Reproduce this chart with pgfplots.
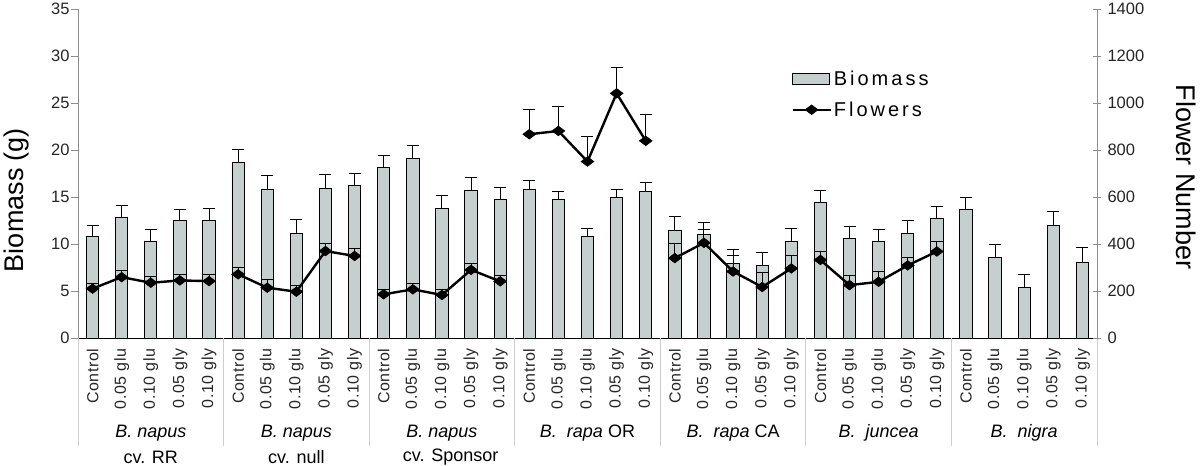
\documentclass[border=0pt]{standalone}
\usepackage{fontspec}
\setmainfont{Liberation Sans}
\usepackage{pgfplots}
\usepackage{pgfplotstable}
\pgfplotsset{compat=1.18}
\definecolor{barfill}{RGB}{197,207,206}
\definecolor{axgray}{RGB}{140,140,140}
\definecolor{sepgray}{RGB}{205,205,205}

\pgfplotstableread{
x y e
0 10.8 1.2
1 12.8 1.3
2 10.3 1.2
3 12.5 1.2
4 12.5 1.3
5 18.7 1.4
6 15.8 1.45
7 11.1 1.5
8 15.9 1.5
9 16.2 1.35
10 18.1 1.35
11 19.1 1.4
12 13.8 1.35
13 15.7 1.4
14 14.7 1.35
15 15.8 1.0
16 14.7 0.9
17 10.8 0.9
18 14.9 0.9
19 15.6 0.95
20 11.4 1.5
21 11.0 1.3
22 7.9 1.55
23 7.7 1.4
24 10.3 1.3
25 14.4 1.3
26 10.6 1.3
27 10.3 1.25
28 11.1 1.4
29 12.7 1.3
30 13.7 1.3
31 8.6 1.3
32 5.35 1.4
33 12.0 1.45
34 8.0 1.6
}\biomass

\pgfplotstableread{
x y e
0 210 23
1 259 29
2 235 28
3 245 26
4 242 29
5 271 30
6 214 37
7 197 28
8 370 30
9 349 30
10 186 22
11 207 24
12 183 24
13 290 26
14 241 24
15 867 106
16 881 105
17 751 106
18 1041 108
19 839 110
20 340 60
21 405 58
22 283 66
23 217 62
24 296 55
25 332 36
26 225 41
27 239 42
28 309 35
29 368 43
}\flowers

\newcommand{\tk}{\fontsize{16.5}{18}\selectfont}
\newcommand{\xtk}{\fontsize{16}{18}\selectfont\addfontfeatures{LetterSpace=4}}
\newcommand{\grp}{\fontsize{18}{20}\selectfont}

\pgfplotsset{
  flowstyle/.style={black, line width=2.4pt, mark=diamond*, mark size=6.5pt,
    mark options={rotate=90, line width=0.5pt, solid},
    /pgfplots/error bars/y dir=plus, /pgfplots/error bars/y explicit,
    /pgfplots/error bars/error bar style={line width=1pt, black},
    /pgfplots/error bars/error mark options={rotate=90, mark size=6pt, line width=1pt, black}},
}

\begin{document}
\begin{tikzpicture}
\begin{axis}[
  at={(0,0)}, anchor=south west,
  scale only axis, width=1019pt, height=329pt,
  xmin=-0.5, xmax=34.5, ymin=0, ymax=35,
  axis x line*=bottom, axis y line*=left,
  axis line style={-},
  x axis line style={black, line width=0.9pt, -},
  y axis line style={axgray, line width=0.9pt, -},
  ytick={0,5,...,35},
  ytick style={axgray, line width=0.8pt},
  tick align=outside,
  major tick length=7pt,
  xtick={0,...,34},
  xtick style={draw=none},
  xticklabels={Control,0.05 glu,0.10 glu,0.05 gly,0.10 gly,
               Control,0.05 glu,0.10 glu,0.05 gly,0.10 gly,
               Control,0.05 glu,0.10 glu,0.05 gly,0.10 gly,
               Control,0.05 glu,0.10 glu,0.05 gly,0.10 gly,
               Control,0.05 glu,0.10 glu,0.05 gly,0.10 gly,
               Control,0.05 glu,0.10 glu,0.05 gly,0.10 gly,
               Control,0.05 glu,0.10 glu,0.05 gly,0.10 gly},
  xticklabel style={rotate=90, anchor=east, font=\xtk, text=black!85},
  minor xtick={-0.5,0.5,...,34.5},
  minor tick length=71pt,
  minor x tick style={sepgray, line width=0.8pt},
  extra x ticks={-0.5,4.5,9.5,14.5,19.5,24.5,29.5,34.5},
  extra x tick labels={},
  extra x tick style={major tick length=108pt, xtick style={draw=sepgray, line width=0.8pt}},
  yticklabel style={font=\tk, text=black!85, xshift=2pt},
  /pgf/number format/assume math mode=true,
  /pgf/number format/1000 sep={},
  clip=false,
]
\addplot[ybar, bar width=12.3pt, fill=barfill, draw=black, line width=0.9pt,
  error bars/.cd, y dir=plus, y explicit,
  error bar style={line width=1pt, black},
  error mark options={rotate=90, mark size=6pt, line width=1pt, black}]
  table[x=x, y=y, y error=e] {\biomass};

\node[font=\grp\itshape] at (axis cs:2,0) [yshift=-95pt] {B. napus};
\node[font=\grp] at (axis cs:2,0) [yshift=-119pt] {cv. RR};
\node[font=\grp\itshape] at (axis cs:7,0) [yshift=-95pt] {B. napus};
\node[font=\grp] at (axis cs:7,0) [yshift=-119pt] {cv. null};
\node[font=\grp\itshape] at (axis cs:12,0) [yshift=-95pt] {B. napus};
\node[font=\grp] at (axis cs:12.3,0) [yshift=-119pt] {cv. Sponsor};
\node[font=\grp] at (axis cs:17,0) [yshift=-95pt] {\itshape B.\ \ rapa\upshape\ OR};
\node[font=\grp] at (axis cs:22,0) [yshift=-95pt] {\itshape B.\ \ rapa\upshape\ CA};
\node[font=\grp\itshape] at (axis cs:27,0) [yshift=-95pt] {B.\ \ juncea};
\node[font=\grp\itshape] at (axis cs:32,0) [yshift=-95pt] {B.\ \ nigra};
\end{axis}

\begin{axis}[
  at={(0,0)}, anchor=south west,
  scale only axis, width=1019pt, height=329pt,
  xmin=-0.5, xmax=34.5, ymin=0, ymax=1400,
  axis x line=none, axis y line*=right,
  axis line style={-},
  y axis line style={axgray, line width=0.9pt, -},
  ytick={0,200,...,1400},
  ytick style={axgray, line width=0.8pt},
  tick align=center, major tick length=8pt,
  yticklabel style={font=\tk, text=black!85, xshift=3pt},
  /pgf/number format/assume math mode=true,
  /pgf/number format/1000 sep={},
  legend style={at={(0.697,0.825)}, anchor=north west, draw=none, fill=none,
    font=\fontsize{20}{22}\selectfont\addfontfeatures{LetterSpace=15},
    row sep=11pt},
  legend cell align=left,
  clip=false,
]
\addlegendimage{legend image code/.code={\draw[fill=barfill,draw=black,line width=1pt] (0pt,-5.5pt) rectangle (37pt,5.5pt);}}
\addlegendentry{Biomass}
\addlegendimage{legend image code/.code={\draw[black, line width=2.4pt, mark=diamond*, mark size=6.5pt, mark options={rotate=90,line width=0.5pt}, mark repeat=2, mark phase=2] plot coordinates {(0pt,0pt) (19pt,0pt) (38pt,0pt)};}}
\addlegendentry{Flowers}
\addplot[restrict x to domain=0:4, forget plot, flowstyle] table[x=x, y=y, y error=e] {\flowers};
\addplot[restrict x to domain=5:9, forget plot, flowstyle] table[x=x, y=y, y error=e] {\flowers};
\addplot[restrict x to domain=10:14, forget plot, flowstyle] table[x=x, y=y, y error=e] {\flowers};
\addplot[restrict x to domain=15:19, forget plot, flowstyle] table[x=x, y=y, y error=e] {\flowers};
\addplot[restrict x to domain=20:24, forget plot, flowstyle] table[x=x, y=y, y error=e] {\flowers};
\addplot[restrict x to domain=25:29, forget plot, flowstyle] table[x=x, y=y, y error=e] {\flowers};
\end{axis}

\node[rotate=90, font=\fontsize{27}{30}\selectfont] at (-61pt,138pt) {Biomass (g)};
\node[rotate=-90, font=\fontsize{27}{30}\selectfont] at (1108pt,161pt) {Flower Number};

\pgfresetboundingbox
\path[use as bounding box] (-78pt,-128pt) rectangle (1122pt,338pt);
\end{tikzpicture}
\end{document}
